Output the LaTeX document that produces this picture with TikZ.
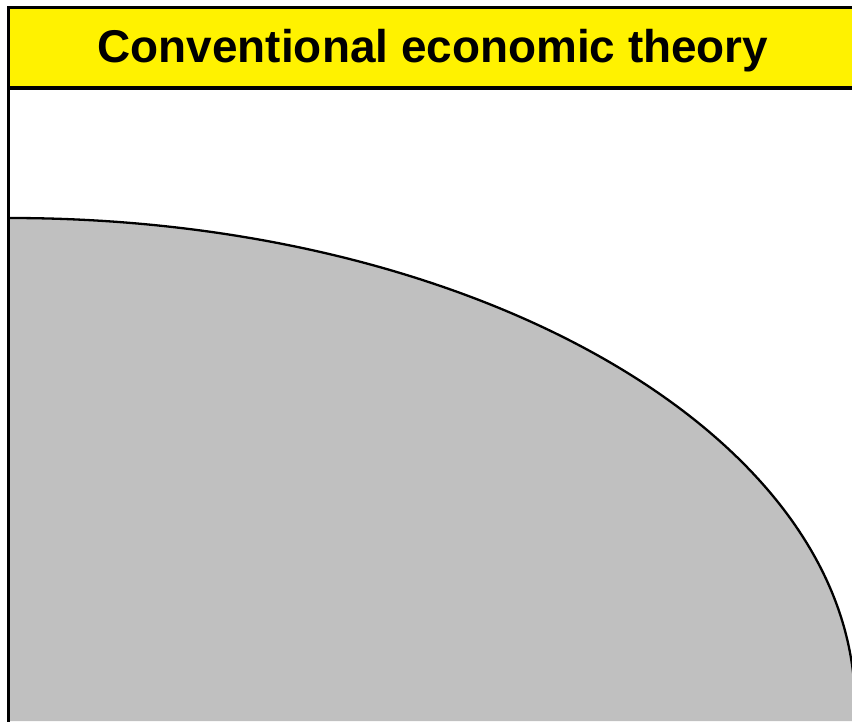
\documentclass[tikz,border=0pt]{standalone}
\usepackage{fontspec}
\setmainfont{Liberation Sans}
\begin{document}
\begin{tikzpicture}[x=1pt,y=-1pt,
  frameline/.style={draw=black,line width=3pt},
  curveline/.style={draw=black,line width=2.3pt},
  titletext/.style={font=\fontsize{45.9}{50}\selectfont\bfseries,text=black,inner sep=0pt}]
\useasboundingbox (0,0) rectangle (852,721);
\begin{scope}
\clip (0,0) rectangle (852,721);
% gray region under curve
\fill[fill={rgb,255:red,192;green,192;blue,192}] (10,218) arc[start angle=90,end angle=0,x radius=845,y radius=-488] -- (855,721) -- (10,721) -- cycle;
\draw[curveline] (10,218) arc[start angle=90,end angle=0,x radius=845,y radius=-488];
% header
\fill[yellow] (8.5,7.5) rectangle (870,88);
\draw[frameline] (870,7.5) -- (8.5,7.5) -- (8.5,730);
\draw[draw=black,line width=4pt] (8.5,88) -- (870,88);
\end{scope}
\node[titletext,anchor=base] (title) at (433,62) {Conventional economic theory};
\end{tikzpicture}
\end{document}
